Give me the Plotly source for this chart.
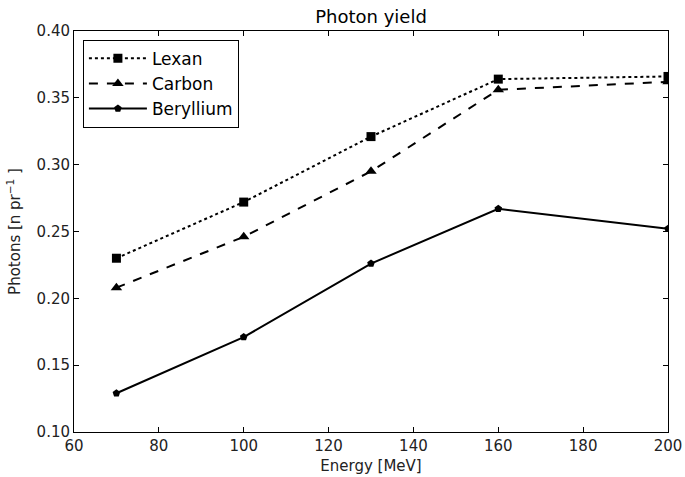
import plotly.graph_objects as go

energy = [70, 100, 130, 160, 200]
lexan = [0.230, 0.272, 0.321, 0.364, 0.366]
carbon = [0.208, 0.246, 0.295, 0.356, 0.362]
beryllium = [0.129, 0.171, 0.226, 0.267, 0.252]

x_ticks = [60, 80, 100, 120, 140, 160, 180, 200]
y_ticks = [0.10, 0.15, 0.20, 0.25, 0.30, 0.35, 0.40]

FONT = "DejaVu Sans"

fig = go.Figure()
fig.add_trace(go.Scatter(
    x=energy, y=lexan, name="Lexan", mode="lines+markers",
    line=dict(color="black", width=2, dash="dot"),
    marker=dict(symbol="square", size=9, color="black"),
))
fig.add_trace(go.Scatter(
    x=energy, y=carbon, name="Carbon", mode="lines+markers",
    line=dict(color="black", width=2, dash="dash"),
    marker=dict(symbol="triangle-up", size=10, color="black"),
))
fig.add_trace(go.Scatter(
    x=energy, y=beryllium, name="Beryllium", mode="lines+markers",
    line=dict(color="black", width=2),
    marker=dict(symbol="pentagon", size=8, color="black"),
))

axis_common = dict(
    showgrid=False, zeroline=False, automargin=False,
    showline=True, linecolor="black", linewidth=1, mirror="ticks",
    ticks="inside", ticklen=5, tickcolor="black", tickwidth=1,
    tickfont=dict(family=FONT, size=15, color="#222"),
)

fig.update_xaxes(
    range=[60, 200], tickvals=x_ticks,
    ticktext=[str(v) for v in x_ticks],
    title=dict(text="Energy [MeV]", font=dict(family=FONT, size=15, color="#222"), standoff=6),
    **axis_common,
)
fig.update_yaxes(
    range=[0.10, 0.40], tickvals=y_ticks,
    ticktext=[f"{v:.2f}" for v in y_ticks],
    title=dict(text="Photons [n pr<sup>−1</sup> ]", font=dict(family=FONT, size=15, color="#222"), standoff=12),
    **axis_common,
)

fig.update_layout(
    width=685, height=477,
    margin=dict(l=74, r=17, t=31, b=45),
    paper_bgcolor="white", plot_bgcolor="white",
    title=dict(text="Photon yield", x=0.5, xref="paper", xanchor="center",
               y=1, yref="paper", yanchor="bottom", pad=dict(b=8),
               font=dict(family=FONT, size=18, color="black")),
    legend=dict(
        x=0.015, y=0.978, xanchor="left", yanchor="top",
        bordercolor="black", borderwidth=1, bgcolor="white",
        font=dict(family=FONT, size=17, color="black"),
        itemwidth=58, tracegroupgap=2,
    ),
    showlegend=True,
)

fig.write_html("out.html")
